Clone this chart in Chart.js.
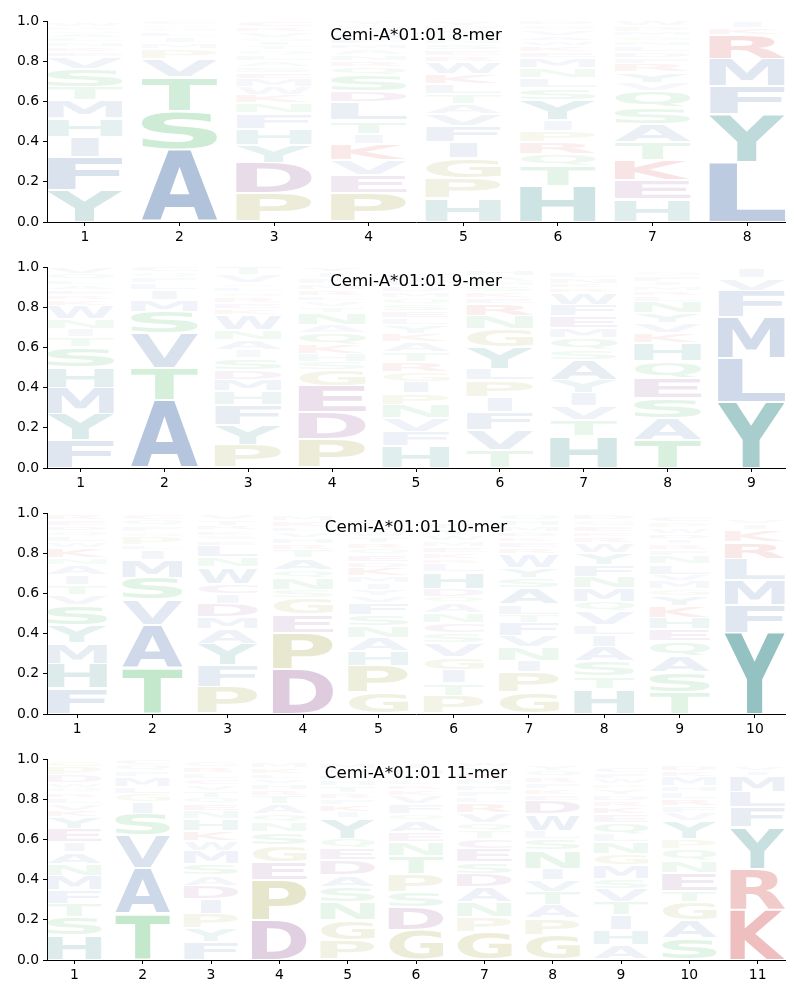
<!DOCTYPE html>
<html>
<head>
<meta charset="utf-8">
<script src="https://cdn.jsdelivr.net/npm/chart.js@4.4.0/dist/chart.umd.min.js"></script>
<style>
  body { margin: 0; background: #fff; }
  canvas { display: block; }
</style>
</head>
<body>
<canvas id="logo8" width="800" height="246"></canvas>
<canvas id="logo9" width="800" height="246"></canvas>
<canvas id="logo10" width="800" height="246"></canvas>
<canvas id="logo11" width="800" height="246"></canvas>
<script>
// letters per position, stacked from the bottom up, and their heights
const mer8Letters = [
    "YFIHMTSVEKNLAQRW", "ASTVPMILGQC", "PDYHFNKWMESALQTIGVRC", "PEVKITLDSQRNAMFHWGY",
    "HPGIFVATLKWRESNQMDY", "HTQRPIYSLNMEKWAVGD", "HEKTASQVYRFDLNGMPW", "LYFMRKI"
];
const mer8Heights = [
    [0.16, 0.165, 0.10, 0.09, 0.09, 0.066, 0.09, 0.058, 0.025, 0.025, 0.025, 0.02, 0.02, 0.02, 0.015, 0.02],
    [0.36, 0.19, 0.17, 0.09, 0.05, 0.03, 0.03, 0.025, 0.02, 0.015, 0.02],
    [0.145, 0.15, 0.09, 0.08, 0.075, 0.05, 0.04, 0.04, 0.04, 0.03, 0.03, 0.03, 0.03, 0.025, 0.02, 0.02, 0.02, 0.03, 0.025, 0.03],
    [0.145, 0.09, 0.075, 0.08, 0.05, 0.065, 0.09, 0.055, 0.08, 0.04, 0.03, 0.03, 0.03, 0.025, 0.025, 0.025, 0.02, 0.025, 0.02],
    [0.117, 0.10, 0.10, 0.08, 0.08, 0.06, 0.05, 0.05, 0.05, 0.05, 0.06, 0.03, 0.03, 0.03, 0.025, 0.02, 0.025, 0.02, 0.023],
    [0.18, 0.10, 0.058, 0.058, 0.058, 0.053, 0.10, 0.058, 0.05, 0.05, 0.05, 0.03, 0.03, 0.025, 0.025, 0.03, 0.025, 0.02],
    [0.112, 0.096, 0.10, 0.09, 0.09, 0.083, 0.083, 0.04, 0.05, 0.04, 0.03, 0.03, 0.03, 0.025, 0.025, 0.02, 0.03, 0.026],
    [0.30, 0.236, 0.14, 0.136, 0.12, 0.035, 0.033]
];

const mer9Letters = [
    "FYMHSTINWKREALQV", "ATVSMILFQC", "PYFHMDSIANWKERGLQVT", "PDEGSHKQANTVLRMFIY",
    "HFVNPIGRTAKYLESQMDWC", "TVFIPLYGNREKSMAH", "HTVIYASQMEFWRKNL", "TASEQHKVYNLRMIFG", "YLMFVI"
];
const mer9Heights = [
    [0.14, 0.13, 0.13, 0.10, 0.10, 0.05, 0.04, 0.05, 0.066, 0.03, 0.025, 0.025, 0.025, 0.025, 0.03, 0.034],
    [0.34, 0.157, 0.173, 0.107, 0.058, 0.05, 0.033, 0.03, 0.025, 0.027],
    [0.115, 0.10, 0.10, 0.066, 0.058, 0.05, 0.058, 0.04, 0.05, 0.05, 0.074, 0.03, 0.03, 0.03, 0.025, 0.025, 0.02, 0.04, 0.039],
    [0.144, 0.135, 0.13, 0.08, 0.04, 0.04, 0.046, 0.058, 0.04, 0.058, 0.03, 0.03, 0.025, 0.03, 0.03, 0.03, 0.03, 0.024],
    [0.107, 0.074, 0.066, 0.066, 0.058, 0.058, 0.05, 0.05, 0.05, 0.05, 0.04, 0.04, 0.035, 0.035, 0.035, 0.03, 0.03, 0.03, 0.036, 0.03],
    [0.09, 0.10, 0.09, 0.074, 0.083, 0.058, 0.107, 0.09, 0.066, 0.058, 0.03, 0.03, 0.03, 0.02, 0.03, 0.03],
    [0.157, 0.083, 0.066, 0.066, 0.066, 0.10, 0.05, 0.058, 0.05, 0.058, 0.058, 0.058, 0.025, 0.02, 0.03, 0.03],
    [0.14, 0.107, 0.10, 0.10, 0.083, 0.09, 0.05, 0.05, 0.05, 0.058, 0.03, 0.025, 0.02, 0.02, 0.03, 0.025],
    [0.33, 0.215, 0.206, 0.132, 0.06, 0.05]
];

const mer10Letters = [
    "FHMYSVTIANKWLQDER", "TAVSMILPGFQC", "PFYAMDICWNLESKRTV", "DPEGSNQATRHVLKM",
    "GPHANSFVYIMKDEQRTWLC", "PTIGVSCNAQDHLRKEMWYF", "GPINVFTLASYWREKDMHQ",
    "HTSAILVQMNFYWRKEGD", "TSAQEHKYGMVLNFRIDWPC", "YFMLRKIV"
];
const mer10Heights = [
    [0.127, 0.124, 0.10, 0.09, 0.10, 0.05, 0.05, 0.05, 0.05, 0.033, 0.05, 0.03, 0.03, 0.025, 0.025, 0.03, 0.03],
    [0.23, 0.215, 0.124, 0.107, 0.09, 0.05, 0.025, 0.04, 0.025, 0.03, 0.03, 0.03],
    [0.135, 0.107, 0.107, 0.074, 0.058, 0.066, 0.05, 0.05, 0.083, 0.05, 0.058, 0.025, 0.025, 0.025, 0.02, 0.03, 0.03],
    [0.223, 0.182, 0.09, 0.083, 0.04, 0.058, 0.04, 0.058, 0.04, 0.03, 0.03, 0.03, 0.025, 0.03, 0.03],
    [0.107, 0.132, 0.074, 0.066, 0.058, 0.058, 0.058, 0.033, 0.033, 0.033, 0.033, 0.041, 0.03, 0.035, 0.03, 0.03, 0.03, 0.03, 0.03, 0.03],
    [0.09, 0.063, 0.066, 0.066, 0.066, 0.05, 0.05, 0.05, 0.05, 0.033, 0.04, 0.083, 0.04, 0.025, 0.03, 0.03, 0.03, 0.03, 0.03, 0.03],
    [0.107, 0.10, 0.058, 0.066, 0.058, 0.066, 0.04, 0.05, 0.083, 0.05, 0.05, 0.066, 0.03, 0.03, 0.025, 0.025, 0.03, 0.03, 0.03],
    [0.124, 0.063, 0.074, 0.074, 0.058, 0.05, 0.066, 0.05, 0.066, 0.058, 0.058, 0.058, 0.05, 0.03, 0.025, 0.03, 0.03, 0.03],
    [0.107, 0.10, 0.083, 0.074, 0.058, 0.058, 0.058, 0.05, 0.033, 0.04, 0.033, 0.05, 0.04, 0.03, 0.03, 0.025, 0.025, 0.03, 0.03, 0.03],
    [0.404, 0.137, 0.124, 0.107, 0.083, 0.058, 0.03, 0.025]
];

const mer11Letters = [
    "HSTFMNAIEYKVLRQWDPG", "TAVSIGLMFQC", "FYPIDASMWKHNEQTVCLRG", "DPEGSNQATRHVLKM",
    "PGNSADEQYIKFRTHLVM", "GDSPTNEAQFVKRLYHI", "GPNADSECTQVRLFHMKYW", "GPATVINSLWDEKFRQY",
    "AHITVSMGNLQEKRDYPWFC", "SAGTENQPYVFRLHMKD", "KRYFLMIV"
];
const mer11Heights = [
    [0.124, 0.09, 0.066, 0.066, 0.074, 0.058, 0.058, 0.05, 0.066, 0.058, 0.033, 0.033, 0.03, 0.025, 0.025, 0.025, 0.04, 0.04, 0.03],
    [0.23, 0.226, 0.165, 0.107, 0.06, 0.04, 0.033, 0.05, 0.03, 0.03, 0.029],
    [0.09, 0.066, 0.074, 0.074, 0.066, 0.05, 0.058, 0.066, 0.05, 0.05, 0.058, 0.04, 0.035, 0.03, 0.035, 0.03, 0.03, 0.03, 0.03, 0.03],
    [0.198, 0.198, 0.09, 0.083, 0.066, 0.05, 0.04, 0.05, 0.04, 0.03, 0.03, 0.025, 0.025, 0.03, 0.03],
    [0.10, 0.10, 0.09, 0.074, 0.058, 0.074, 0.058, 0.05, 0.10, 0.033, 0.035, 0.03, 0.03, 0.035, 0.03, 0.025, 0.03, 0.03],
    [0.15, 0.115, 0.074, 0.09, 0.09, 0.066, 0.05, 0.058, 0.033, 0.05, 0.04, 0.03, 0.025, 0.025, 0.025, 0.03, 0.03],
    [0.14, 0.074, 0.074, 0.074, 0.066, 0.058, 0.066, 0.05, 0.04, 0.04, 0.05, 0.05, 0.03, 0.03, 0.03, 0.03, 0.03, 0.03, 0.025],
    [0.124, 0.083, 0.066, 0.066, 0.058, 0.058, 0.09, 0.058, 0.04, 0.083, 0.066, 0.03, 0.03, 0.03, 0.03, 0.03, 0.03],
    [0.074, 0.074, 0.074, 0.066, 0.066, 0.05, 0.066, 0.058, 0.058, 0.04, 0.058, 0.04, 0.035, 0.03, 0.03, 0.03, 0.025, 0.028, 0.03, 0.03],
    [0.107, 0.09, 0.09, 0.058, 0.09, 0.058, 0.058, 0.05, 0.09, 0.04, 0.033, 0.035, 0.035, 0.03, 0.045, 0.03, 0.03],
    [0.25, 0.205, 0.205, 0.10, 0.078, 0.078, 0.025, 0.025]
];

const FONT = '"DejaVu Sans", sans-serif';
const GLYPH_FONT = 'bold 100px "DejaVu Sans"';

// base colour of each residue group; transparency comes from the letter height
const groupColors = {
    A: [70, 110, 170], V: [70, 110, 170], L: [70, 110, 170], I: [70, 110, 170],
    M: [70, 110, 170], F: [70, 110, 170], W: [70, 110, 170],
    Y: [30, 125, 125], H: [30, 125, 125],
    S: [40, 170, 70], T: [40, 170, 70], N: [40, 170, 70], Q: [40, 170, 70],
    P: [150, 150, 40], G: [150, 150, 40],
    D: [130, 60, 130], E: [130, 60, 130], C: [130, 60, 130],
    K: [200, 40, 40], R: [200, 40, 40]
};

function glyphColor(ch, h) {
    const c = groupColors[ch] || [120, 120, 120];
    const a = Math.min(0.95, 0.01 + 1.15 * h);
    return `rgba(${c[0]}, ${c[1]}, ${c[2]}, ${a.toFixed(3)})`;
}

// draw one letter stretched into the box, but never wider-stretched than 'E'
function drawGlyph(ctx, ch, left, top, w, h, color) {
    if (h <= 0.5) return;
    ctx.save();
    ctx.font = GLYPH_FONT;
    ctx.textAlign = 'left';
    ctx.textBaseline = 'alphabetic';
    const m = ctx.measureText(ch);
    const e = ctx.measureText('E');
    const gw = m.actualBoundingBoxLeft + m.actualBoundingBoxRight;
    const gh = m.actualBoundingBoxAscent + m.actualBoundingBoxDescent;
    const ew = e.actualBoundingBoxLeft + e.actualBoundingBoxRight;
    const sx = Math.min(w / gw, w / ew);
    const offX = left + (w - gw * sx) / 2;
    ctx.translate(offX, top);
    ctx.scale(sx, h / gh);
    ctx.fillStyle = color;
    ctx.fillText(ch, m.actualBoundingBoxLeft, m.actualBoundingBoxAscent);
    ctx.restore();
}

const logoPlugin = {
    id: 'logoGlyphs',
    afterDatasetsDraw(chart) {
        const ctx = chart.ctx;
        chart.data.datasets.forEach((ds, di) => {
            const meta = chart.getDatasetMeta(di);
            meta.data.forEach((bar, i) => {
                const ch = ds.chars[i];
                const h = ds.data[i].y;
                if (!ch || !h) return;
                const p = bar.getProps(['x', 'y', 'base', 'width'], true);
                const top = Math.min(p.y, p.base) + 1;
                const height = Math.abs(p.base - p.y) - 2;
                drawGlyph(ctx, ch, p.x - p.width / 2, top, p.width, height, glyphColor(ch, h));
            });
        });
    },
    afterDraw(chart) {
        const ctx = chart.ctx;
        const area = chart.chartArea;
        ctx.save();
        ctx.font = `16.7px ${FONT}`;
        ctx.fillStyle = '#000';
        ctx.textAlign = 'center';
        ctx.textBaseline = 'middle';
        ctx.fillText(chart.options.logoTitle, (area.left + area.right) / 2, area.top + 15);
        ctx.restore();
    }
};

function drawLogo(canvasId, title, letters, heights) {
    const n = letters.length;
    const positions = letters.map((s, i) => i + 1);
    const depth = Math.max(...letters.map(s => s.length));
    const datasets = [];
    for (let k = 0; k < depth; k++) {
        datasets.push({
            data: positions.map((x, i) => ({ x: x, y: heights[i][k] || 0 })),
            chars: letters.map(s => s[k] || ''),
            backgroundColor: 'rgba(0,0,0,0)',
            borderWidth: 0,
            barPercentage: 0.8,
            categoryPercentage: 1.0
        });
    }

    const tickFont = { family: FONT, size: 13.9 };

    new Chart(document.getElementById(canvasId), {
        type: 'bar',
        data: { datasets: datasets },
        options: {
            responsive: false,
            animation: false,
            logoTitle: title,
            layout: { padding: { top: 21, right: 15, left: 0, bottom: 0 } },
            plugins: {
                legend: { display: false },
                tooltip: { enabled: false },
                title: { display: false }
            },
            scales: {
                x: {
                    type: 'linear',
                    min: 0.6,
                    max: n + 0.4,
                    offset: false,
                    stacked: true,
                    grid: { offset: false, drawOnChartArea: false, drawTicks: true, tickLength: 4, color: '#000' },
                    border: { display: true, color: '#000', width: 1 },
                    ticks: { color: '#000', padding: 3, font: tickFont },
                    afterBuildTicks: s => { s.ticks = positions.map(v => ({ value: v })); },
                    afterFit: s => { s.height = 24; }
                },
                y: {
                    min: 0,
                    max: 1,
                    stacked: true,
                    grid: { drawOnChartArea: false, drawTicks: true, tickLength: 4, color: '#000' },
                    border: { display: true, color: '#000', width: 1 },
                    ticks: { stepSize: 0.2, color: '#000', padding: 4, font: tickFont,
                             callback: v => v.toFixed(1) },
                    afterFit: s => { s.width = 47; }
                }
            }
        },
        plugins: [logoPlugin]
    });
}

drawLogo('logo8', 'Cemi-A*01:01 8-mer', mer8Letters, mer8Heights);
drawLogo('logo9', 'Cemi-A*01:01 9-mer', mer9Letters, mer9Heights);
drawLogo('logo10', 'Cemi-A*01:01 10-mer', mer10Letters, mer10Heights);
drawLogo('logo11', 'Cemi-A*01:01 11-mer', mer11Letters, mer11Heights);
</script>
</body>
</html>
